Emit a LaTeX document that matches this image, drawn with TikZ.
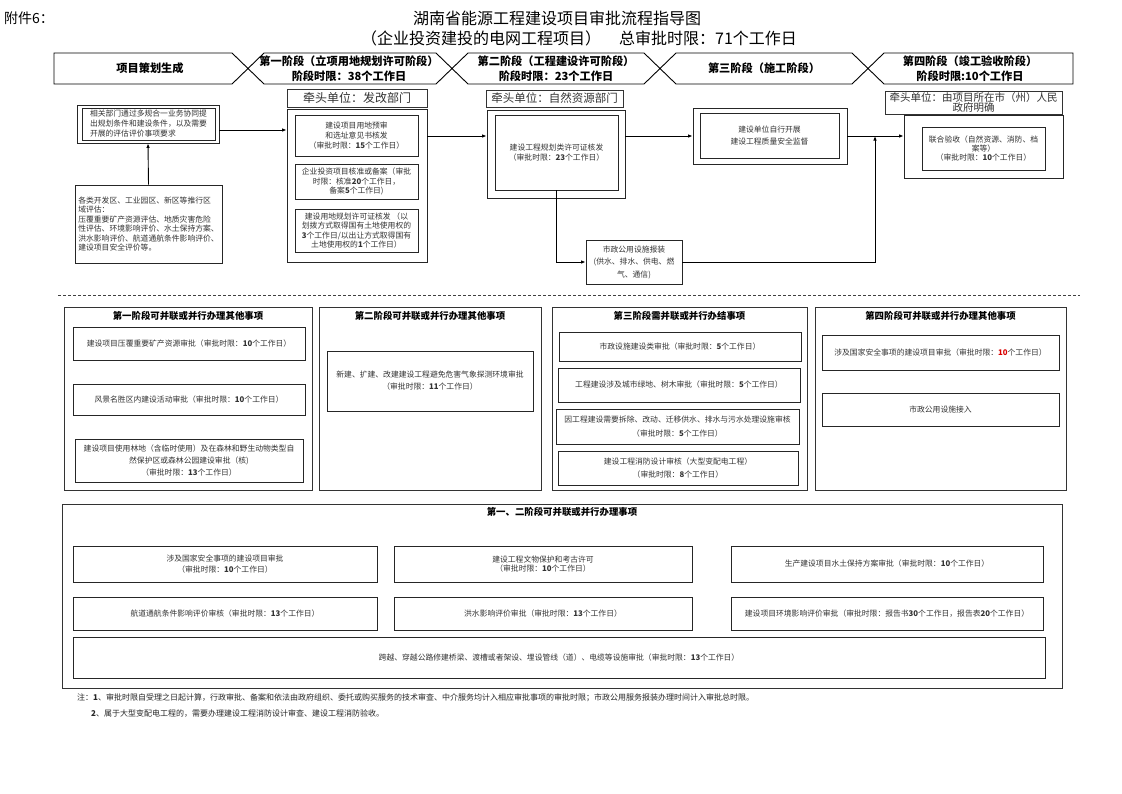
\documentclass[tikz,border=0pt]{standalone}
\usepackage{fontspec}
\setmainfont{Noto Sans CJK SC}
\usetikzlibrary{arrows.meta}
\newcommand\fsz[2]{\fontsize{#1}{#2}\selectfont}
% box from corner (x1,y1) to (x2,y2): \bxn[style]{name}{x1}{y1}{x2}{y2}{text}
\newcommand\bxn[7][]{\node[bx,#1,minimum width={(#5-#3)*1pt},minimum height={(#6-#4)*1pt}] (#2) at ({(#3+#5)/2},{(#4+#6)/2}) {#7};}
\begin{document}
\begin{tikzpicture}[x=1pt,y=-1pt,
  bx/.style={draw=black!85, line width=0.8pt, inner sep=0pt, align=center, text=black!80, font=\fsz{7.8}{11}},
  pnl/.style={draw=black!80, line width=0.9pt},
  ptitle/.style={font=\bfseries\fsz{9.4}{11}, inner sep=0pt},
  lead/.style={draw=black!80, text=black!80, font=\fsz{12}{12}},
  arr/.style={draw=black, line width=0.9pt, -{Latex[length=4.5pt,width=3.5pt]}},
  hdr/.style={draw=black, line width=0.9pt, fill=white},
  htxt/.style={font=\bfseries\fsz{11.2}{14.5}, align=center, inner sep=0pt},
  note/.style={font=\fsz{8}{9}, text=black!85, inner sep=0pt},
  dashln/.style={draw=black!75, line width=0.9pt, dash pattern=on 3pt off 2pt}
]
\useasboundingbox[fill=white] (0,0) rectangle (1122,793);

% ---------- title ----------
\node[anchor=west, font=\fsz{14}{14}, inner sep=0pt] (att) at (4,18) {附件6：};
\node[font=\fsz{16}{16}, inner sep=0pt] (title1) at (557,18) {湖南省能源工程建设项目审批流程指导图};
\node[anchor=west, font=\fsz{16}{16}, inner sep=0pt] (title2a) at (361,38) {（企业投资建投的电网工程项目）};
\node[anchor=west, font=\fsz{16}{16}, inner sep=0pt] (title2b) at (619,38) {总审批时限：71个工作日};

% ---------- header chevrons ----------
\draw[hdr] (54,53) -- (232,53) -- (248,68.5) -- (232,84) -- (54,84) -- cycle;
\draw[hdr] (248,68.5) -- (264,53) -- (436,53) -- (452,68.5) -- (436,84) -- (264,84) -- cycle;
\draw[hdr] (452,68.5) -- (468,53) -- (644,53) -- (660,68.5) -- (644,84) -- (468,84) -- cycle;
\draw[hdr] (660,68.5) -- (676,53) -- (852,53) -- (868,68.5) -- (852,84) -- (676,84) -- cycle;
\draw[hdr] (868,68.5) -- (884,53) -- (1073,53) -- (1073,84) -- (884,84) -- cycle;
\node[htxt] (h0) at (150,68.5) {项目策划生成};
\node[htxt] (h1) at (349,68.5) {第一阶段（立项用地规划许可阶段）\\阶段时限：38个工作日};
\node[htxt] (h2) at (556,68.5) {第二阶段（工程建设许可阶段）\\阶段时限：23个工作日};
\node[htxt] (h3) at (764,68.5) {第三阶段（施工阶段）};
\node[htxt] (h4) at (970,68.5) {第四阶段（竣工验收阶段）\\阶段时限:10个工作日};

% ---------- left column ----------
\bxn{tlo}{77}{105}{219}{143}{}
\bxn[align=left, font=\fsz{7.8}{10}]{tl}{82}{108}{215}{140}{相关部门通过多规合一业务协同提\\出规划条件和建设条件，以及需要\\开展的评估评价事项要求}
\bxn[align=left, font=\fsz{7.8}{9.4}]{bl}{75}{185}{222}{263}{各类开发区、工业园区、新区等推行区\\域评估：\\压覆重要矿产资源评估、地质灾害危险\\性评估、环境影响评价、水土保持方案、\\洪水影响评价、航道通航条件影响评价、\\建设项目安全评价等。}

% ---------- stage 1 ----------
\bxn[lead]{s1lead}{287}{89}{427}{107}{牵头单位：发改部门}
\bxn{s1o}{287}{109}{427}{262}{}
\bxn[font=\fsz{7.8}{9.6}]{s1a}{295}{115}{418}{156}{建设项目用地预审\\和选址意见书核发\\（审批时限：\textbf{15}个工作日）}
\bxn[font=\fsz{7.8}{9.6}]{s1b}{295}{164}{418}{199}{企业投资项目核准或备案（审批\\时限：核准\textbf{20}个工作日，\\备案\textbf{5}个工作日)}
\bxn[font=\fsz{7.8}{9.2}]{s1c}{295}{209}{418}{252}{建设用地规划许可证核发 （以\\划拨方式取得国有土地使用权的\\\textbf{3}个工作日/以出让方式取得国有\\土地使用权的\textbf{1}个工作日）}

% ---------- stage 2 ----------
\bxn[lead, font=\fsz{11.5}{11.5}]{s2lead}{486}{90}{623}{107}{牵头单位：自然资源部门}
\bxn{s2o}{487}{110}{625}{198}{}
\bxn[font=\fsz{7.8}{10}]{s2i}{495}{115}{618}{190}{建设工程规划类许可证核发\\（审批时限：\textbf{23}个工作日）}
\bxn[font=\fsz{7.8}{12.5}]{mz}{586}{240}{682}{284}{市政公用设施报装\\(供水、排水、供电、燃\\气、通信)}

% ---------- stage 3 ----------
\bxn[font=\fsz{7.8}{12}]{s3o}{693}{108}{847}{164}{}
\bxn[font=\fsz{7.8}{12}]{s3i}{700}{113}{839}{158}{建设单位自行开展\\建设工程质量安全监督}

% ---------- stage 4 ----------
\bxn[lead, font=\fsz{10.5}{10.5}]{s4lead}{885}{91}{1062}{114}{牵头单位：由项目所在市（州）人民\\政府明确}
\bxn{s4o}{904}{115}{1063}{178}{}
\bxn[font=\fsz{7.8}{9.4}]{s4i}{922}{127}{1045}{170}{联合验收（自然资源、消防、档\\案等）\\（审批时限：\textbf{10}个工作日）}

% ---------- connectors ----------
\coordinate (ya) at (0,130);
\coordinate (yb) at (0,136);
\coordinate (j) at (875,0);
\draw[arr] (tlo.east |- ya) -- (s1o.west |- ya);
\draw[arr] (bl.north) -- (tlo.south);
\draw[arr] (s1o.east |- yb) -- (s2o.west |- yb);
\draw[arr] (s2o.east |- s3o.west) -- (s3o.west);
\draw[arr] (s3o.east) -- (s4o.west |- s3o.east);
\draw[arr] (s2i.south) |- (mz.west);
\draw[arr] (mz.east) -| (j |- s3o.east);

% ---------- separator ----------
\draw[dashln] (58,295) -- (1080,295);

% ---------- panel 1 ----------
\bxn[pnl]{p1}{64}{307}{312}{490}{}
\node[ptitle] (p1t) at (188,316) {第一阶段可并联或并行办理其他事项};
\bxn{p1a}{73}{327}{305}{360}{建设项目压覆重要矿产资源审批（审批时限：\textbf{10}个工作日）}
\bxn{p1b}{73}{384}{305}{415}{风景名胜区内建设活动审批（审批时限：\textbf{10}个工作日）}
\bxn[font=\fsz{7.8}{12}]{p1c}{75}{439}{303}{482}{建设项目使用林地（含临时使用）及在森林和野生动物类型自\\然保护区或森林公园建设审批（核)\\（审批时限：\textbf{13}个工作日）}

% ---------- panel 2 ----------
\bxn[pnl]{p2}{319}{307}{541}{490}{}
\node[ptitle] (p2t) at (430,316) {第二阶段可并联或并行办理其他事项};
\bxn[font=\fsz{7.8}{12}]{p2a}{327}{351}{533}{411}{新建、扩建、改建建设工程避免危害气象探测环境审批\\（审批时限：\textbf{11}个工作日）}

% ---------- panel 3 ----------
\bxn[pnl]{p3}{552}{307}{807}{490}{}
\node[ptitle] (p3t) at (679.5,316) {第三阶段需并联或并行办结事项};
\bxn{p3a}{559}{332}{801}{361}{市政设施建设类审批（审批时限：\textbf{5}个工作日）}
\bxn{p3b}{558}{368}{800}{402}{工程建设涉及城市绿地、树木审批（审批时限：\textbf{5}个工作日）}
\bxn[font=\fsz{7.8}{13.5}]{p3c}{556}{409}{799}{444}{因工程建设需要拆除、改动、迁移供水、排水与污水处理设施审核\\（审批时限：\textbf{5}个工作日）}
\bxn[font=\fsz{7.8}{13}]{p3d}{558}{451}{798}{485}{建设工程消防设计审核（大型变配电工程）\\（审批时限：\textbf{8}个工作日）}

% ---------- panel 4 ----------
\bxn[pnl]{p4}{815}{307}{1066}{490}{}
\node[ptitle] (p4t) at (940.5,316) {第四阶段可并联或并行办理其他事项};
\bxn{p4a}{822}{335}{1059}{370}{涉及国家安全事项的建设项目审批（审批时限：\textcolor{red!85!black}{\textbf{10}}个工作日）}
\bxn{p4b}{822}{393}{1059}{426}{市政公用设施接入}

% ---------- bottom panel ----------
\bxn[pnl]{pb}{62}{504}{1062}{688}{}
\node[ptitle] (pbt) at (562,512) {第一、二阶段可并联或并行办理事项};
\bxn[font=\fsz{7.8}{11.5}]{b1a}{73}{546}{377}{582}{涉及国家安全事项的建设项目审批\\（审批时限：\textbf{10}个工作日）}
\bxn[font=\fsz{7.8}{9}]{b1b}{394}{546}{692}{582}{建设工程文物保护和考古许可\\（审批时限：\textbf{10}个工作日）}
\bxn{b1c}{731}{546}{1043}{582}{生产建设项目水土保持方案审批（审批时限：\textbf{10}个工作日）}
\bxn{b2a}{73}{597}{377}{630}{航道通航条件影响评价审核（审批时限：\textbf{13}个工作日）}
\bxn{b2b}{394}{597}{692}{630}{洪水影响评价审批（审批时限：\textbf{13}个工作日）}
\bxn{b2c}{731}{597}{1043}{630}{建设项目环境影响评价审批（审批时限：报告书\textbf{30}个工作日，报告表\textbf{20}个工作日）}
\bxn{b3}{73}{637}{1045}{678}{跨越、穿越公路修建桥梁、渡槽或者架设、埋设管线（道）、电缆等设施审批（审批时限：\textbf{13}个工作日）}

% ---------- notes ----------
\node[note, anchor=west] (n1) at (77,698) {注：\textbf{1}、审批时限自受理之日起计算，行政审批、备案和依法由政府组织、委托或购买服务的技术审查、中介服务均计入相应审批事项的审批时限；市政公用服务报装办理时间计入审批总时限。};
\node[note, anchor=west] (n2) at (91,714) {\textbf{2}、属于大型变配电工程的，需要办理建设工程消防设计审查、建设工程消防验收。};
\end{tikzpicture}
\end{document}
